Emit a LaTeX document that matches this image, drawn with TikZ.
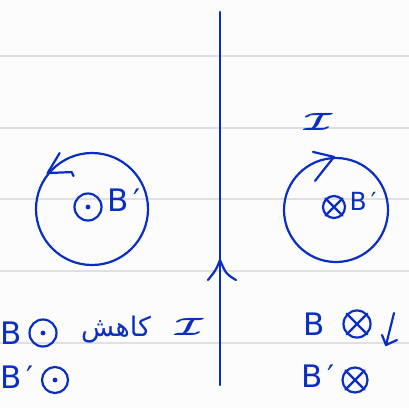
\documentclass[tikz,border=0pt]{standalone}
\usepackage{fontspec}
\setmainfont{DejaVu Sans}
\newfontfamily\arabicfont[Script=Arabic]{DejaVu Sans}
\TeXXeTstate=1
\usepackage{tikz}
\usetikzlibrary{calc}
\definecolor{inkblue}{HTML}{0A2EC2}
\definecolor{paperbg}{HTML}{FCFCFC}
\definecolor{ruleline}{HTML}{E0E0E0}
\tikzset{
every picture/.style={line cap=round,line join=round},
ink/.style={draw=inkblue, line width=2.2pt},
ink text/.style={text=inkblue, inner sep=0pt},
big text/.style={ink text, font=\fontsize{31}{31}\selectfont},
small text/.style={ink text, font=\fontsize{25}{25}\selectfont},
rule line/.style={draw=ruleline, line width=1.6pt},
dot sym/.style={circle, ink, minimum size=#1, inner sep=0pt},
dot sym/.default=26pt,
loop ring/.style={circle, ink, inner sep=0pt, minimum size=#1}
}
% cross in a circle
\newcommand{\crossin}[1]{\draw[ink] (#1.45) -- (#1.225) (#1.135) -- (#1.315);}
\newcommand{\curI}{\scalebox{1.6}[1]{\boldmath$\mathcal{I}$}}

\begin{document}
\begin{tikzpicture}[x=1pt,y=-1pt]
\fill[paperbg] (0,0) rectangle (409,408);
\useasboundingbox (0,0) rectangle (409,408);
\foreach \y in {56,128,199,271,343} {
\draw[rule line] (0,\y) -- (409,\y);
}
% straight wire with current upwards
\coordinate (wire top) at (220,12);
\coordinate (wire bot) at (220,385);
\coordinate (wire tip) at (220,260);
\draw[ink, line width=2.6pt] (wire top) -- (wire bot);
\draw[ink] ($(wire tip)+(-12,20)$) .. controls ($(wire tip)+(-4,10)$) .. (wire tip)
  .. controls ($(wire tip)+(6,14)$) .. ($(wire tip)+(16,20)$);
% left loop
\node[loop ring=112pt] (loop L) at (92,209) {};
\draw[ink] ($(loop L.141)+(12,-20)$) -- (loop L.141) -- ++(24,-1) -- ++(2,4);
\node[dot sym=27pt] (dot L) at (88,207) {};
\fill[inkblue] (dot L) circle (2.4pt);
\node[big text] (B L) at (124,200) {B\,′};
% right loop
\node[loop ring=104pt] (loop R) at (336,210) {};
\node[ink text, font=\fontsize{36}{36}\selectfont] (I R) at (318,122) {\curI};
\draw[ink] ($(loop R.north)+(-23,-5)$) -- ($(loop R.north)+(-2,0)$) -- ($(loop R.north)+(-21,24)$);
\node[dot sym=22pt] (cross L) at (334,207) {};
\crossin{cross L}
\node[small text] (B R) at (363,201) {B\,′};
% bottom left notes
\node[big text] (B one) at (11,333) {B};
\node[dot sym=27pt] (dot one) at (43,333) {};
\fill[inkblue] (dot one) circle (2.4pt);
\node[big text] (B two) at (17,377) {B\,′};
\node[dot sym=26pt] (dot two) at (55,380) {};
\fill[inkblue] (dot two) circle (2.4pt);
\node[ink text, font=\fontsize{27}{27}\arabicfont] (decr) at (116,330) {\beginR کاهش\endR};
\node[ink text, font=\fontsize{36}{36}\selectfont] (I low) at (189,327) {\curI};
% bottom right notes
\node[big text] (B three) at (314,324) {B};
\node[dot sym=27pt] (cross one) at (357,324) {};
\crossin{cross one}
\coordinate (down top) at (394,313);
\coordinate (down tip) at (386,345);
\draw[ink] (down top) -- (down tip);
\draw[ink] ($(down tip)+(-4,-10)$) -- (down tip) -- ($(down tip)+(11,-5)$);
\node[big text] (B four) at (318,376) {B\,′};
\node[dot sym=25pt] (cross two) at (355,380) {};
\crossin{cross two}
\end{tikzpicture}
\end{document}
